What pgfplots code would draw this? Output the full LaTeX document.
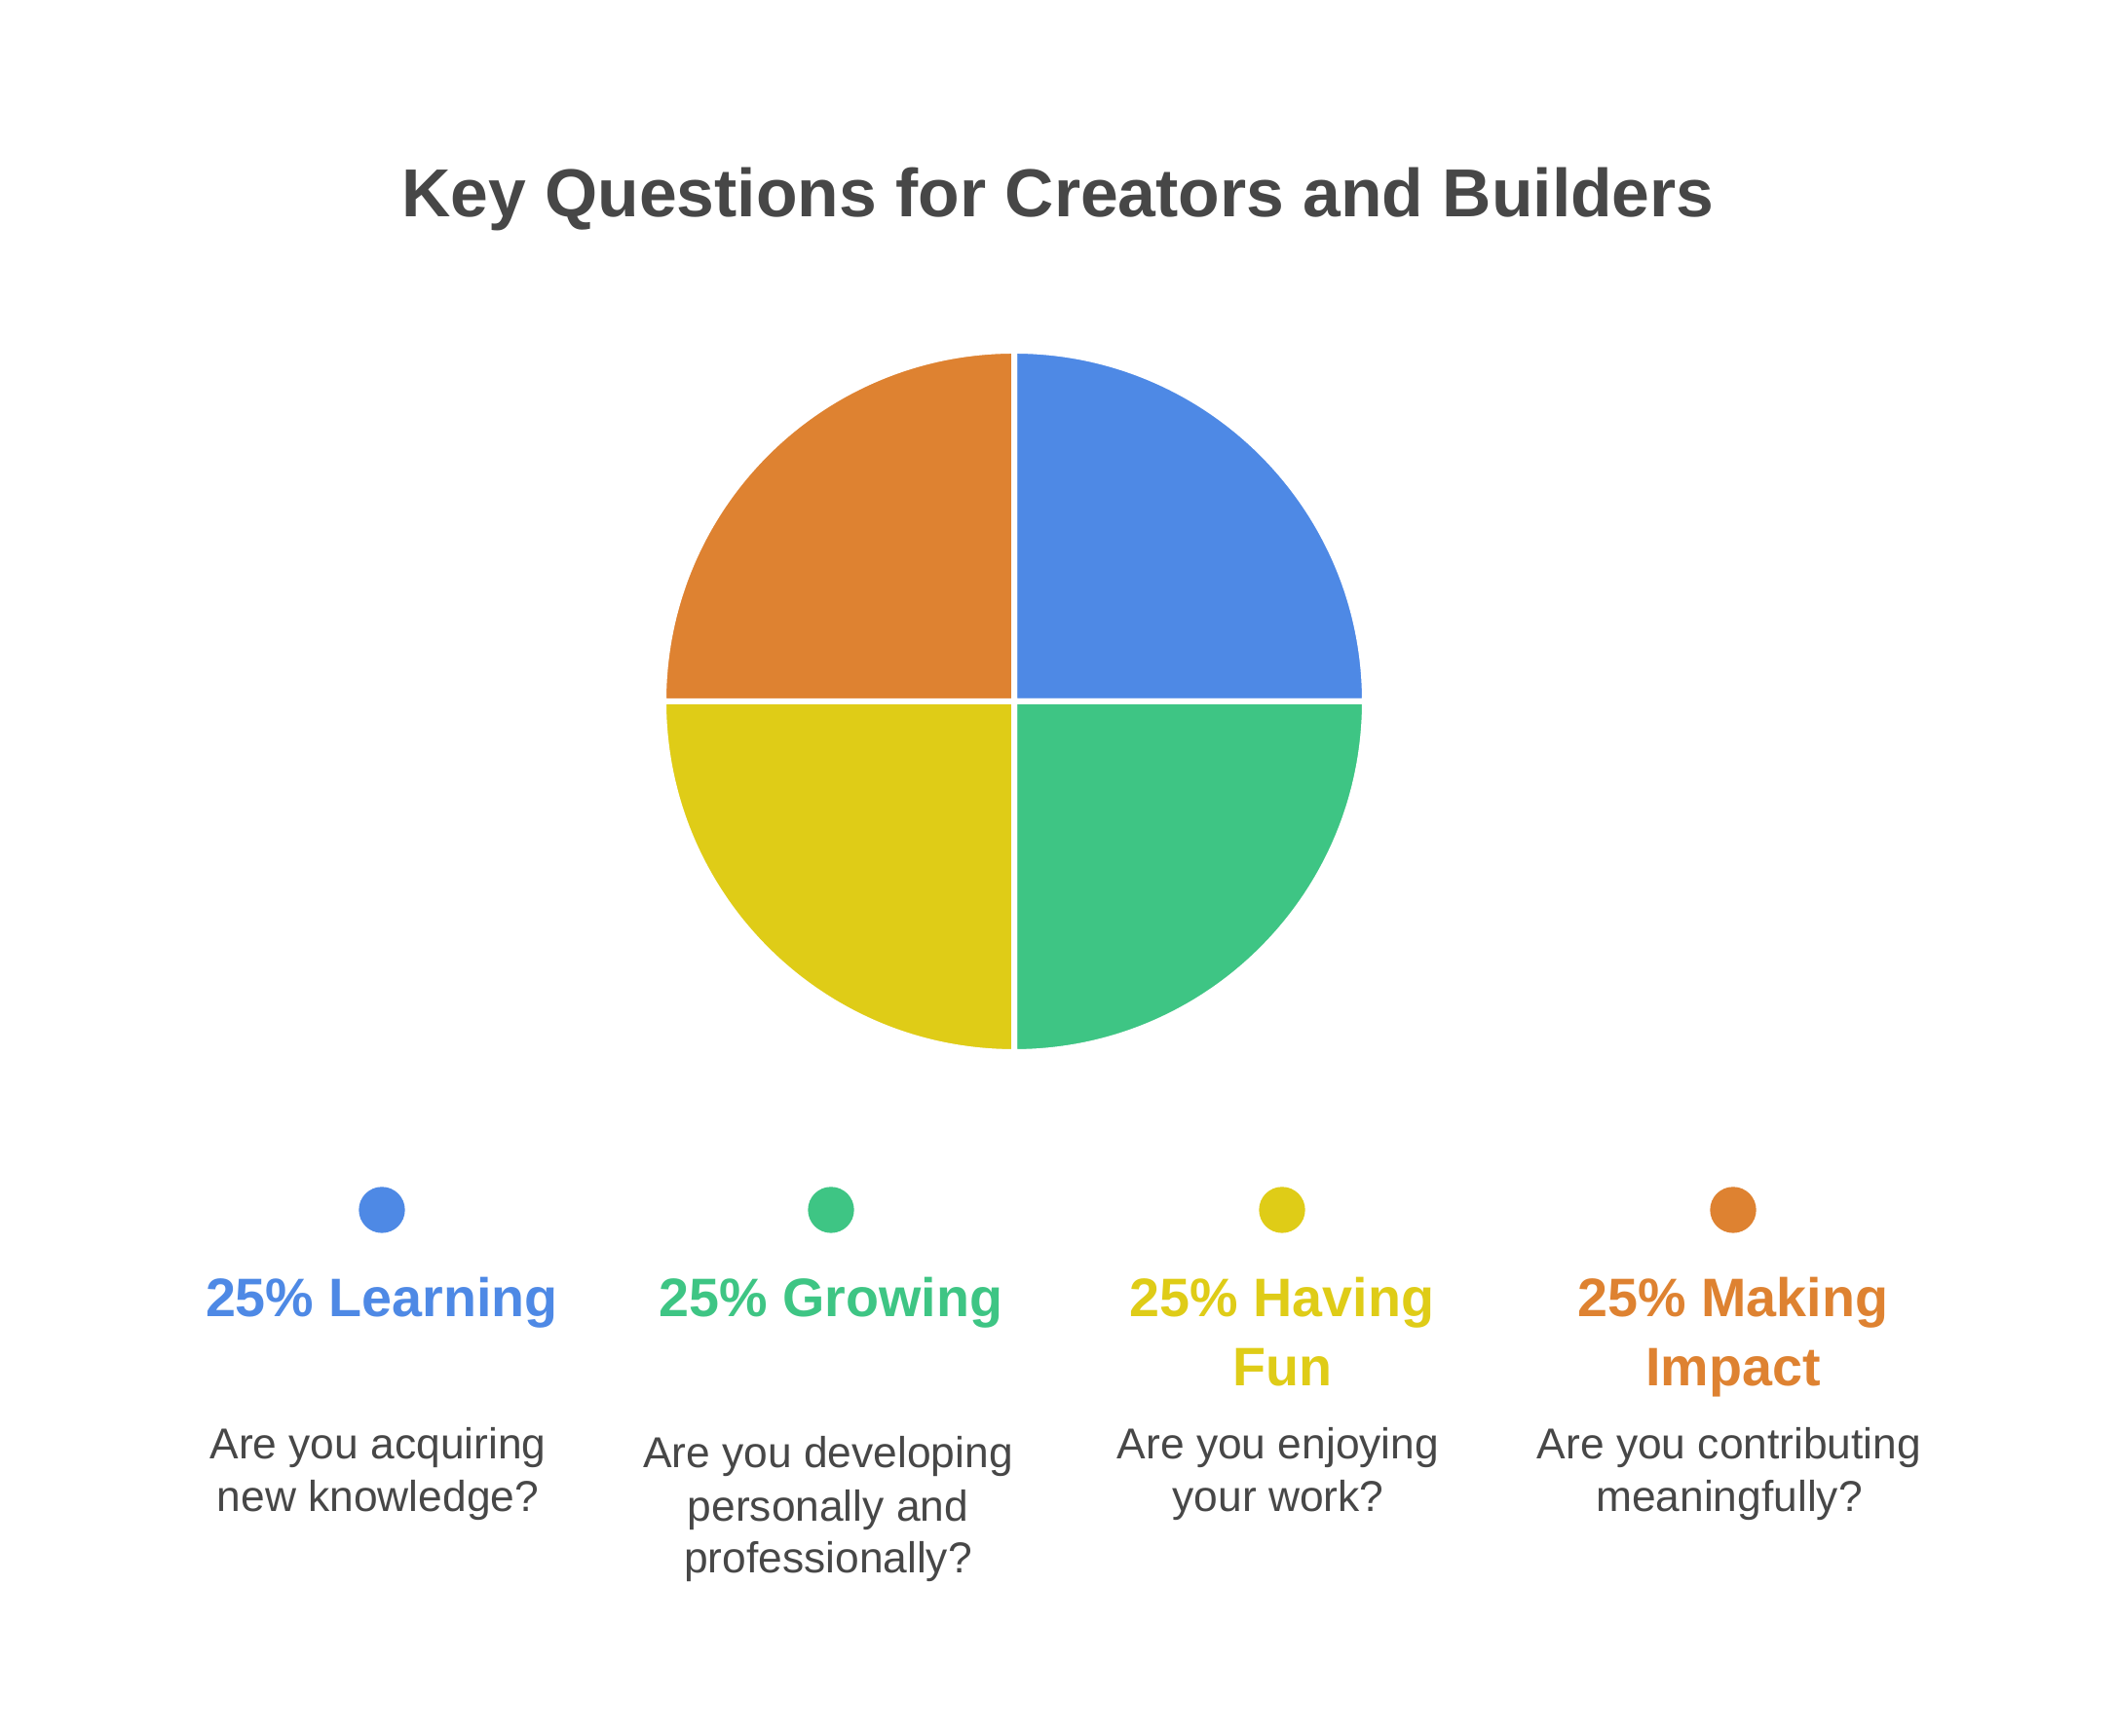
\documentclass[border=0pt]{standalone}
\usepackage{pgfplots}
\pgfplotsset{compat=1.18}
\usepackage{pgfplotstable}
\usepackage{fontspec}
\setmainfont{Liberation Sans}
\definecolor{cBlue}{HTML}{4E89E5}
\definecolor{cGreen}{HTML}{3EC584}
\definecolor{cYellow}{HTML}{DFCC17}
\definecolor{cOrange}{HTML}{DE8231}
\definecolor{cText}{HTML}{474747}
\pgfplotstableread{
idx name value
0 Learning 25
1 Growing 25
2 HavingFun 25
3 MakingImpact 25
}\piedata
\begin{document}%
\pgfplotstablegetelem{0}{value}\of\piedata\let\vA\pgfplotsretval%
\pgfplotstablegetelem{1}{value}\of\piedata\let\vB\pgfplotsretval%
\pgfplotstablegetelem{2}{value}\of\piedata\let\vC\pgfplotsretval%
\pgfplotstablegetelem{3}{value}\of\piedata\let\vD\pgfplotsretval%
\pgfmathsetmacro\tot{\vA+\vB+\vC+\vD}%
\pgfmathsetmacro\aA{90}%
\pgfmathsetmacro\aB{\aA-\vA/\tot*360}%
\pgfmathsetmacro\aC{\aB-\vB/\tot*360}%
\pgfmathsetmacro\aD{\aC-\vC/\tot*360}%
\pgfmathsetmacro\aE{\aD-\vD/\tot*360}%
\begin{tikzpicture}
\begin{axis}[x=0.3pt, y=0.3pt, xmin=0, xmax=2172, ymin=0, ymax=1782,
  axis lines=none, enlargelimits=false, clip=false]
\path[fill=white] (axis cs:0,0) rectangle (axis cs:2172,1782);
% pie slices
\filldraw[fill=cBlue, draw=white, line width=1.8pt] (axis cs:1041,1062) -- ++(\aA:108pt) arc[start angle=\aA, end angle=\aB, radius=108pt] -- cycle;
\filldraw[fill=cGreen, draw=white, line width=1.8pt] (axis cs:1041,1062) -- ++(\aB:108pt) arc[start angle=\aB, end angle=\aC, radius=108pt] -- cycle;
\filldraw[fill=cYellow, draw=white, line width=1.8pt] (axis cs:1041,1062) -- ++(\aC:108pt) arc[start angle=\aC, end angle=\aD, radius=108pt] -- cycle;
\filldraw[fill=cOrange, draw=white, line width=1.8pt] (axis cs:1041,1062) -- ++(\aD:108pt) arc[start angle=\aD, end angle=\aE, radius=108pt] -- cycle;
% legend dots
\addplot[only marks, mark=*, mark size=6.9pt, color=cBlue] coordinates {(392,540)};
\addplot[only marks, mark=*, mark size=6.9pt, color=cGreen] coordinates {(853,540)};
\addplot[only marks, mark=*, mark size=6.9pt, color=cYellow] coordinates {(1316,540)};
\addplot[only marks, mark=*, mark size=6.9pt, color=cOrange] coordinates {(1779,540)};
% title
\node[anchor=base, inner sep=0pt, text=cText, font=\fontsize{20.9}{25}\selectfont\bfseries] at (axis cs:1086,1559) {Key Questions for Creators and Builders};
% headings
\tikzset{hd/.style={anchor=base, inner sep=0pt, font=\fontsize{16.7}{20}\selectfont\bfseries},
         bd/.style={anchor=base, inner sep=0pt, text=cText, font=\fontsize{13.3}{16}\selectfont}}
\node[hd, text=cBlue] at (axis cs:392,430) {25\% Learning};
\node[hd, text=cGreen] at (axis cs:853,430) {25\% Growing};
\node[hd, text=cYellow] at (axis cs:1316,430) {25\% Having};
\node[hd, text=cYellow] at (axis cs:1316,359) {Fun};
\node[hd, text=cOrange] at (axis cs:1779,430) {25\% Making};
\node[hd, text=cOrange] at (axis cs:1779,359) {Impact};
% body
\node[bd] at (axis cs:388,284) {Are you acquiring};
\node[bd] at (axis cs:388,230) {new knowledge?};
\node[bd] at (axis cs:850,275) {Are you developing};
\node[bd] at (axis cs:850,220) {personally and};
\node[bd] at (axis cs:850,167) {professionally?};
\node[bd] at (axis cs:1312,284) {Are you enjoying};
\node[bd] at (axis cs:1312,230) {your work?};
\node[bd] at (axis cs:1775,284) {Are you contributing};
\node[bd] at (axis cs:1775,230) {meaningfully?};
\end{axis}
\end{tikzpicture}%
\end{document}
